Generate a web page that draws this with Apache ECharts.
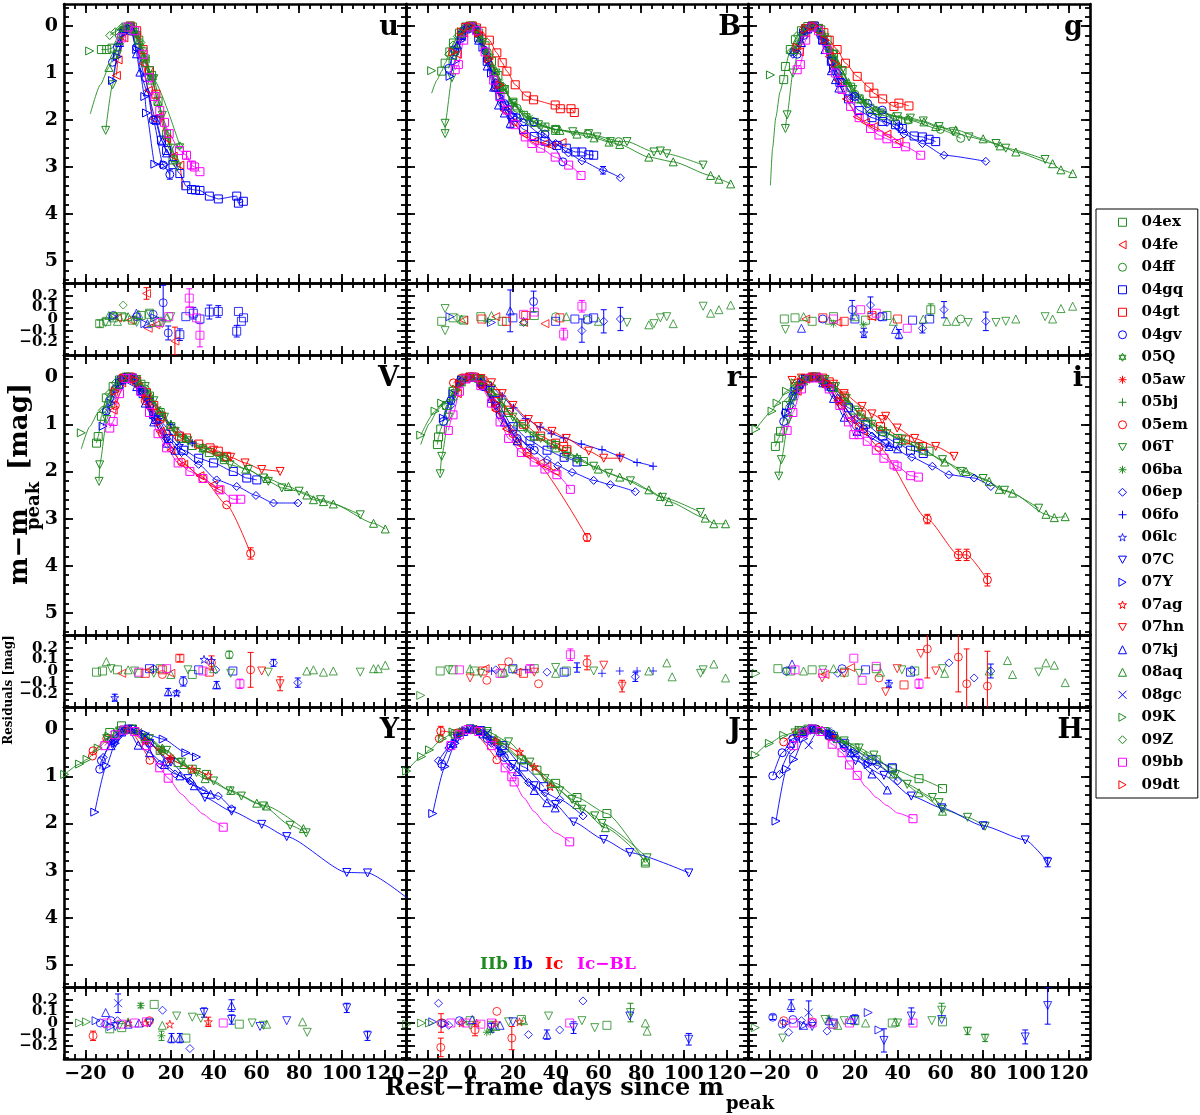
<!DOCTYPE html>
<html>
<head>
<meta charset="utf-8">
<script src="https://cdn.jsdelivr.net/npm/echarts@6/dist/echarts.min.js"></script>
<style>html,body{margin:0;background:#fff}#main{width:1200px;height:1115px}</style>
</head>
<body>
<div id="main"></div>
<script>
// supernovae: name, colour (by type), plot symbol
var snNames  = ['04ex','04fe','04ff','04gq','04gt','04gv','05Q','05aw','05bj','05em','06T','06ba','06ep','06fo','06lc','07C','07Y','07ag','07hn','07kj','08aq','08gc','09K','09Z','09bb','09dt'];
var snTypes  = ['IIb','Ic','IIb','Ib','Ic','Ib','IIb','Ic','IIb','Ic','IIb','IIb','Ib','Ib','Ib','Ib','Ib','Ic','Ic','Ib','IIb','Ib','IIb','IIb','Ic-BL','Ic'];
var snShapes = ['sq','triL','circ','sq','sq','circ','hex','ast','plus','circ','triD','ast','diam','plus','star','triD','triR','star','triD','triU','triU','cross','triR','diam','sq','triR'];
var typeNames  = ['IIb','Ib','Ic','Ic-BL'];
var typeColors = ['#1f8a1f','#0000ff','#ff0000','#ff00ff'];

var bands   = ['u','B','g','V','r','i','Y','J','H'];
var xTicks  = [-20, 0, 20, 40, 60, 80, 100, 120];
var magTicks = [0, 1, 2, 3, 4, 5];
var resTicks = [-0.2, -0.1, 0, 0.1, 0.2];

// light curves: [sn, days since peak, m - m_peak, (error)]
var mag_u = [
 ['09K',-18,0.53],
 ['04ex',-12.5,0.5],['04ex',-10,0.5],['04ex',-7.5,0.47],['04ex',-4,0.15],['04ex',-1,0.02],['04ex',2,0.02],['04ex',5,0.3],['04ex',8,0.7],['04ex',11,1.05],['04ex',14,1.6],['04ex',18,2.3],['04ex',21,2.85],
 ['06T',-10.5,2.22],['06T',-7.3,1.25],['06T',-5,0.6],['06T',-2,0.12],['06T',1,0],['06T',4,0.2],['06T',7,0.55],['06T',10,0.95],['06T',12,1.12],['06T',16,1.9],['06T',20,2.6],['06T',23,3.0],
 ['09Z',-8.6,0.2],['09Z',-6,0.12],['09Z',-3,0.03],['09Z',0,0],['09Z',3,0.08],['09Z',6,0.35],
 ['08aq',-9,0.88],['08aq',-6.5,0.6],['08aq',-4,0.3],['08aq',-1,0.03],['08aq',2,0.05],['08aq',5,0.3],['08aq',8,0.78],['08aq',11,1.15],['08aq',14,1.6],['08aq',18,2.3],['08aq',22,2.8],
 ['05Q',-2,0.05],['05Q',3,0.15],['05Q',8,0.7],['05Q',11.4,1.1],['05Q',24.2,2.55],
 ['06ba',-3,0.08],['06ba',2,0.05],['06ba',6,0.45],['06ba',10,1.0],
 ['04gv',-7.3,0.77],['04gv',-5,0.45],['04gv',-2,0.1],['04gv',1,0.02],['04gv',4,0.45],['04gv',8,1.1],['04gv',11.7,2.0],['04gv',16.4,2.96],['04gv',19.5,3.16,0.1],
 ['07Y',-7.3,1.16],['07Y',-5,0.65],['07Y',-2,0.15],['07Y',1,0.05],['07Y',4,0.5],['07Y',7.8,1.5],['07Y',8.6,1.85],['07Y',12.5,2.94],['07Y',17,2.95],
 ['07kj',-4,0.35],['07kj',-1,0.05],['07kj',2,0.1],['07kj',3.9,0.59],['07kj',5.5,0.98],['07kj',9,1.4],['07kj',13,2.0],['07kj',16,2.45],['07kj',18,2.7],
 ['04gq',13,2.0],['04gq',15.6,2.43],['04gq',18,2.65],['04gq',21,2.95],['04gq',24.2,3.14],['04gq',27,3.4],['04gq',29.7,3.48],['04gq',31.5,3.49],['04gq',33.6,3.5],['04gq',38,3.62],['04gq',42.2,3.68],['04gq',50.8,3.62],['04gq',51.6,3.77],['04gq',53.9,3.73],
 ['04fe',-5.5,1.05],['04fe',-4.7,0.72],['04fe',-2,0.25],['04fe',1,0.02],['04fe',4,0.2],['04fe',7,0.8],['04fe',9.4,1.37],['04fe',11.7,1.97],['04fe',14.8,1.92],['04fe',18,2.4],['04fe',21.1,2.77],['04fe',24.2,2.96],
 ['04gt',1,0.0],['04gt',4,0.1],['04gt',7,0.5],['04gt',10,0.95],['04gt',13,1.45],
 ['09bb',-3,0.25],['09bb',0,0.02],['09bb',3,0.1],['09bb',7,0.6],['09bb',10,1.1],['09bb',12.5,1.5],['09bb',14.8,1.8],['09bb',17,2.05],['09bb',19.2,2.29],['09bb',24,2.65],['09bb',27.3,2.75,0.08],['09bb',29.7,2.96,0.08],['09bb',31,3.0],['09bb',33.6,3.1]
];
var mag_B = [
 ['09K',-18,0.95],
 ['04ex',-13.3,0.96],['04ex',-11.7,0.79],['04ex',-9.5,0.55],['04ex',-7.8,0.36],['04ex',-5,0.15],['04ex',-2,0.02],['04ex',1,0],['04ex',4,0.15],['04ex',7,0.42],['04ex',10,0.75],['04ex',13,1.05],['04ex',16,1.35],['04ex',20,1.62],['04ex',25,1.9],['04ex',30,2.05],['04ex',35,2.15],['04ex',40,2.22],
 ['06T',-11.7,2.29],['06T',-11.7,2.07],['06T',-8.5,1.1],['06T',-6,0.55],['06T',-3,0.12],['06T',0,0],['06T',3,0.08],['06T',6,0.35],['06T',9,0.68],['06T',12,1.0],['06T',16,1.35],['06T',20,1.65],['06T',26,1.95],['06T',32,2.1],['06T',40,2.2],['06T',48,2.25],['06T',55.5,2.29],['06T',59.4,2.36],['06T',65.6,2.46],['06T',73.4,2.46],['06T',86,2.68],['06T',89,2.66],['06T',92,2.72],['06T',109,2.96],
 ['08aq',-8,0.62],['08aq',-4,0.15],['08aq',-1,0.01],['08aq',2,0.03],['08aq',5,0.25],['08aq',8,0.55],['08aq',12,0.95],['08aq',16,1.35],['08aq',21,1.7],['08aq',28,2.0],['08aq',35,2.15],['08aq',42,2.22],['08aq',50,2.3],['08aq',58,2.38],['08aq',65,2.47],['08aq',70,2.52],['08aq',83.6,2.79],['08aq',95,2.89],['08aq',112.5,3.18],['08aq',116.4,3.26],['08aq',121.9,3.36],
 ['09Z',-10,0.6],['09Z',-8,0.4],['09Z',-6,0.22],['09Z',-3,0.05],['09Z',0,0],['09Z',4,0.2],['09Z',8,0.6],['09Z',12,1.0],
 ['04ff',2,0.05],['04ff',8,0.55],['04ff',15,1.3],['04ff',22,1.75],['04ff',30,2.05],['04ff',40,2.2],['04ff',55,2.3],['04ff',69.5,2.46],
 ['05bj',-4,0.1],['05bj',0,0],['05bj',5,0.3],['05bj',10,0.85],['05bj',15,1.35],
 ['06ba',-2,0.05],['06ba',3,0.1],['06ba',8,0.6],['06ba',14,1.2],['06ba',20,1.65],['06ba',28,1.95],
 ['04gt',-2,0.03],['04gt',1,0.0],['04gt',3,0.04],['04gt',5.5,0.11],['04gt',9,0.3],['04gt',12.5,0.57],['04gt',15,0.78],['04gt',17.2,0.96],['04gt',21.1,1.25],['04gt',26.3,1.49],['04gt',29.7,1.57],['04gt',39.8,1.68],['04gt',42.2,1.76],['04gt',47.2,1.76],['04gt',48.75,1.84],
 ['04gq',-4,0.2],['04gq',0,0.01],['04gq',4,0.25],['04gq',8,0.75],['04gq',12,1.3],['04gq',16,1.7],['04gq',20,1.95],['04gq',25,2.2],['04gq',30,2.35],['04gq',35,2.45],['04gq',40.6,2.54],['04gq',45,2.6],['04gq',49.2,2.68],['04gq',52.3,2.68],['04gq',55.5,2.74],['04gq',57.8,2.75],
 ['04gv',-10,0.9],['04gv',-7,0.55],['04gv',-4,0.2],['04gv',-1,0.02],['04gv',3,0.1],['04gv',8,0.7],['04gv',12,1.25],['04gv',16,1.65],['04gv',22,1.95],['04gv',29.7,2.04],['04gv',35,2.3],['04gv',43.4,2.89],
 ['06ep',-8,0.5],['06ep',-3,0.08],['06ep',2,0.02],['06ep',7,0.55],['06ep',12,1.2],['06ep',18,1.75],['06ep',25,2.05],['06ep',33,2.3],['06ep',40,2.5],['06ep',46,2.7],['06ep',52.3,2.87],['06ep',62.2,3.07,0.08],['06ep',70.3,3.23],
 ['07Y',-9.4,1.07],['07Y',-7,0.75],['07Y',-4,0.3],['07Y',-1,0.05],['07Y',2,0.05],['07Y',6,0.45],['07Y',10,1.0],['07Y',14,1.5],['07Y',20,1.9],
 ['07kj',-6,0.4],['07kj',-2,0.06],['07kj',1,0.01],['07kj',4,0.3],['07kj',8,0.85],['07kj',11,1.3],['07kj',13.3,1.68],['07kj',16,1.85],['07kj',18.75,2.07,0.1],
 ['09bb',-7,0.93],['09bb',-5.5,0.82],['09bb',-3,0.3],['09bb',0,0.02],['09bb',3,0.1],['09bb',7,0.55],['09bb',11,1.15],['09bb',14,1.5],['09bb',17.2,1.79],['09bb',21,2.1],['09bb',25.8,2.36],['09bb',28.9,2.5],['09bb',33,2.6],['09bb',39.8,2.79],['09bb',46.1,2.96],['09bb',51.9,3.18],
 ['04fe',-6,0.6],['04fe',-3,0.15],['04fe',0,0],['04fe',4,0.2],['04fe',8,0.75],['04fe',12,1.35],['04fe',16,1.8],['04fe',20,2.05],['04fe',25,2.3],['04fe',30,2.45],['04fe',35,2.5],['04fe',38,2.55],['04fe',43,2.48],
 ['09dt',-8,0.55],['09dt',-4,0.12],['09dt',0,0],['09dt',4,0.15],['09dt',9,0.7],['09dt',14,1.25]
];
var mag_g = [
 ['09K',-19.5,1.04],
 ['04ex',-13.3,1.14],['04ex',-12.5,0.86],['04ex',-10.2,0.5],['04ex',-7.8,0.29],['04ex',-5,0.1],['04ex',-2,0.01],['04ex',1,0],['04ex',4,0.08],['04ex',7,0.3],['04ex',10,0.6],['04ex',14,0.95],['04ex',18,1.3],['04ex',22,1.55],['04ex',27,1.75],['04ex',33,1.9],['04ex',40,2.0],
 ['06T',-12.5,2.18],['06T',-11.7,1.89],['06T',-9,1.0],['06T',-6,0.4],['06T',-3,0.08],['06T',0,0],['06T',3,0.05],['06T',6,0.25],['06T',10,0.6],['06T',14,0.95],['06T',19,1.35],['06T',25,1.65],['06T',32,1.85],['06T',40,1.93],['06T',46,1.96],['06T',52,2.02],['06T',59.4,2.14],['06T',66,2.25],['06T',73.4,2.36],['06T',86,2.5],['06T',90.6,2.6],['06T',109,2.84],
 ['08aq',-8,0.5],['08aq',-4,0.12],['08aq',0,0],['08aq',4,0.1],['08aq',8,0.45],['08aq',12,0.8],['08aq',17,1.2],['08aq',23,1.55],['08aq',30,1.8],['08aq',38,1.92],['08aq',45,1.98],['08aq',52.3,2.04],['08aq',57.8,2.14],['08aq',67.2,2.21],['08aq',80,2.4],['08aq',88,2.55],['08aq',95.3,2.68],['08aq',112.5,2.93],['08aq',116.4,3.06],['08aq',121.9,3.14],
 ['09Z',-10,0.55],['09Z',-7,0.2],['09Z',-4,0.05],['09Z',0,0],['09Z',4,0.12],['09Z',8,0.5],
 ['04ff',3,0.05],['04ff',10,0.6],['04ff',20,1.45],['04ff',30,1.8],['04ff',45,2.0],['04ff',60,2.2],['04ff',69.5,2.39],
 ['05bj',-3,0.05],['05bj',1,0],['05bj',6,0.3],['05bj',11,0.85],['05bj',16,1.25],
 ['06ba',0,0.0],['06ba',5,0.2],['06ba',10,0.7],['06ba',16,1.2],['06ba',24,1.6],
 ['04gt',-3,0.05],['04gt',0,0],['04gt',3,0.05],['04gt',5.5,0.14],['04gt',8,0.3],['04gt',11.7,0.5],['04gt',15.6,0.79],['04gt',21.1,1.07],['04gt',26.6,1.3],['04gt',28.9,1.43],['04gt',33,1.55],['04gt',38.3,1.71],['04gt',40.6,1.64],['04gt',45.3,1.7],
 ['04gq',-3,0.06],['04gq',1,0.0],['04gq',5,0.3],['04gq',9,0.75],['04gq',13,1.2],['04gq',17,1.55],['04gq',22,1.8],['04gq',28,1.95],['04gq',33,2.03],['04gq',39,2.1],['04gq',42.2,2.18],['04gq',47.7,2.34],['04gq',51.6,2.36],['04gq',54.7,2.41],['04gq',57.8,2.46],
 ['04gv',-7,0.6],['04gv',-4,0.2],['04gv',0,0],['04gv',4,0.2],['04gv',9,0.75],['04gv',14,1.2],['04gv',20,1.5],['04gv',26,1.65],['04gv',32.8,1.79],['04gv',40.6,2.14],
 ['06ep',-9,0.6],['06ep',-4,0.1],['06ep',1,0],['06ep',6,0.35],['06ep',12,1.0],['06ep',19,1.5],['06ep',27,1.85],['06ep',35,2.05],['06ep',43,2.3],['06ep',51.6,2.5],['06ep',61.7,2.75],['06ep',81.25,2.88],
 ['07kj',-5,0.35],['07kj',-2,0.06],['07kj',2,0.02],['07kj',6,0.5],['07kj',9,0.95],['07kj',10.9,1.14],['07kj',12.5,1.32],
 ['07Y',-8,0.55],['07Y',-4,0.15],['07Y',0,0],['07Y',5,0.3],['07Y',10,0.9],
 ['09bb',-7,0.93],['09bb',-5.5,0.82],['09bb',-3,0.3],['09bb',0,0.02],['09bb',3,0.1],['09bb',7,0.5],['09bb',11,1.0],['09bb',14,1.35],['09bb',18,1.71],['09bb',22,1.95],['09bb',27.3,2.18],['09bb',31.25,2.32],['09bb',35,2.4],['09bb',39.4,2.5],['09bb',43.75,2.57],['09bb',50.8,2.75],
 ['04fe',-6,0.55],['04fe',-3,0.15],['04fe',0,0],['04fe',4,0.2],['04fe',8,0.65],['04fe',12,1.15],['04fe',16,1.55],['04fe',21.1,1.93],['04fe',25,2.05],['04fe',28.9,2.14],['04fe',35,2.3],['04fe',40.6,2.46],
 ['09dt',-7,0.45],['09dt',-3,0.07],['09dt',1,0],['09dt',6,0.3],['09dt',11,0.8]
];
var mag_V = [
 ['09K',-21.9,1.18],
 ['04ex',-14.8,1.4],['04ex',-14,1.26],['04ex',-12.5,0.83],['04ex',-10.2,0.44],['04ex',-7,0.2],['04ex',-4,0.06],['04ex',-1,0],['04ex',2,0.02],['04ex',6,0.15],['04ex',10,0.4],['04ex',15,0.75],['04ex',20,1.05],['04ex',25,1.3],['04ex',30,1.45],['04ex',38,1.6],['04ex',45,1.75],
 ['06T',-13.6,2.21],['06T',-13.3,1.86],['06T',-10,0.9],['06T',-7,0.35],['06T',-4,0.1],['06T',0,0],['06T',4,0.05],['06T',8,0.2],['06T',12,0.5],['06T',17,0.85],['06T',22,1.15],['06T',28,1.35],['06T',35,1.55],['06T',42,1.68],['06T',47.7,1.86],['06T',56.25,1.96],['06T',63.3,2.14],['06T',65.6,2.21],['06T',71.9,2.35],['06T',80,2.42],['06T',90,2.6],['06T',108.6,2.92],
 ['08aq',-9,0.55],['08aq',-5,0.15],['08aq',0,0],['08aq',5,0.08],['08aq',10,0.35],['08aq',15,0.7],['08aq',20,1.0],['08aq',27,1.3],['08aq',35,1.5],['08aq',45,1.7],['08aq',55,1.95],['08aq',65,2.15],['08aq',75,2.32],['08aq',83.6,2.5],['08aq',86.7,2.6],['08aq',91.4,2.64],['08aq',96,2.69],['08aq',114.8,3.1],['08aq',120.3,3.22],
 ['09Z',-12,0.7],['09Z',-9,0.35],['09Z',-6,0.12],['09Z',-3,0.03],['09Z',0,0],['09Z',4,0.06],['09Z',8,0.3],
 ['04ff',2,0.0],['04ff',8,0.25],['04ff',15,0.8],['04ff',25,1.3],['04ff',35,1.5],['04ff',45,1.7],
 ['04gt',-2,0.02],['04gt',1,0],['04gt',4,0.08],['04gt',8.6,0.33],['04gt',12,0.6],['04gt',15.6,0.83],['04gt',21.1,1.15],['04gt',24,1.25],['04gt',27.3,1.29],['04gt',33,1.42],['04gt',38.3,1.5],['04gt',42.2,1.57],['04gt',46.1,1.68],
 ['07hn',40,1.55],['07hn',48,1.7],['07hn',54.7,1.82],['07hn',62.5,1.96],['07hn',71.1,2.0],
 ['05em',-6,0.6],['05em',0,0],['05em',8,0.5],['05em',16,1.2],['05em',25,1.8],['05em',35,2.15],['05em',46.1,2.71],['05em',57.3,3.74,0.12],
 ['06ep',-8,0.45],['06ep',-3,0.06],['06ep',1,0],['06ep',6,0.3],['06ep',12,0.85],['06ep',18,1.3],['06ep',25,1.6],['06ep',33,1.85],['06ep',41.4,2.18],['06ep',50.8,2.32],['06ep',59.8,2.51],['06ep',68,2.67],['06ep',79.4,2.67],
 ['04gq',-3,0.06],['04gq',2,0.02],['04gq',7,0.35],['04gq',13,0.9],['04gq',19,1.3],['04gq',26,1.55],['04gq',33,1.72],['04gq',40,1.82],['04gq',49.2,2.0],['04gq',55.5,2.14],['04gq',60.2,2.18],
 ['09bb',-8.6,1.08],['09bb',-7,0.94],['09bb',-4,0.35],['09bb',-1,0.03],['09bb',2,0.02],['09bb',6,0.3],['09bb',10,0.75],['09bb',14,1.2],['09bb',18,1.5],['09bb',23.4,1.82],['09bb',28.9,2.0],['09bb',35,2.15],['09bb',43,2.39],['09bb',49.2,2.59],['09bb',52.7,2.59],
 ['04fe',-7,0.7],['04fe',-3,0.12],['04fe',0,0],['04fe',5,0.2],['04fe',10,0.65],['04fe',15,1.15],['04fe',20,1.55],['04fe',26,1.85],['04fe',33.6,2.09],['04fe',39.8,2.28],['04fe',42.2,2.39],
 ['07Y',-11.7,1.04],['07Y',-8,0.55],['07Y',-4,0.12],['07Y',0,0],['07Y',6,0.3],['07Y',12,0.8],
 ['04gv',-10.2,0.72],['04gv',-6,0.25],['04gv',-2,0.02],['04gv',3,0.05],['04gv',10,0.6],['04gv',18,1.2],
 ['07kj',-4,0.15],['07kj',0,0],['07kj',4,0.2],['07kj',8,0.55],['07kj',12,0.95],['07kj',18,1.4],['07kj',22,1.55],
 ['06fo',3,0.05],['06fo',10,0.45],['06fo',20,1.0],['06fo',30,1.4],
 ['06lc',-3,0.05],['06lc',6,0.25],['06lc',14,0.9],['06lc',24,1.45],
 ['09dt',-6,0.3],['09dt',-2,0.02],['09dt',3,0.05],['09dt',9,0.45],['09dt',15,0.95]
];
var mag_r = [
 ['09K',-23.1,1.23],['09K',-16.4,0.72],['09K',-13.3,0.55],
 ['04ex',-15.3,1.43],['04ex',-14.8,1.27],['04ex',-13.75,1.1],['04ex',-11,0.6],['04ex',-8,0.3],['04ex',-4,0.06],['04ex',0,0],['04ex',4,0.03],['04ex',8,0.18],['04ex',13,0.45],['04ex',18,0.75],['04ex',24,1.05],['04ex',30,1.25],['04ex',38,1.42],['04ex',45,1.58],['04ex',53,1.79],
 ['06T',-14,2.05],['06T',-13.3,1.68],['06T',-10,0.85],['06T',-7,0.35],['06T',-3,0.06],['06T',1,0],['06T',5,0.05],['06T',10,0.25],['06T',15,0.55],['06T',20,0.85],['06T',26,1.1],['06T',33,1.3],['06T',40,1.45],['06T',45.3,1.68],['06T',50,1.75],['06T',57.8,1.89],['06T',64.8,2.04],['06T',75,2.2],['06T',90,2.55],['06T',107.8,2.87],
 ['08aq',-8,0.4],['08aq',-4,0.1],['08aq',0,0],['08aq',5,0.05],['08aq',10,0.3],['08aq',16,0.65],['08aq',22,0.95],['08aq',30,1.25],['08aq',40,1.5],['08aq',50,1.7],['08aq',60,1.95],['08aq',70,2.12],['08aq',83.6,2.39],['08aq',89,2.53],['08aq',93,2.64],['08aq',110,2.99],['08aq',114,3.11],['08aq',119.5,3.11],
 ['09Z',-12,0.6],['09Z',-8,0.25],['09Z',-4,0.05],['09Z',0,0],['09Z',5,0.08],
 ['06fo',0,0.02],['06fo',4.7,0.05],['06fo',10,0.2],['06fo',15,0.4],['06fo',20.3,0.65],['06fo',26,0.88],['06fo',32.8,1.06],['06fo',38,1.2],['06fo',43.75,1.29],['06fo',52,1.42],['06fo',61.7,1.54],['06fo',70,1.67],['06fo',78.1,1.81],['06fo',85.6,1.89],
 ['07hn',-5,0.15],['07hn',0,0],['07hn',5,0.03],['07hn',10,0.12],['07hn',15,0.35],['07hn',20,0.6],['07hn',27.3,0.9],['07hn',32,1.05],['07hn',38.3,1.15],['07hn',45,1.3],['07hn',55.5,1.57],['07hn',62.5,1.72],['07hn',70.3,1.72],
 ['05em',-7.8,0.12],['05em',-4,0.02],['05em',0,0],['05em',5,0.15],['05em',12,0.65],['05em',20,1.2],['05em',26.6,1.6],['05em',54.7,3.4,0.08],
 ['06ep',-9,0.6],['06ep',-4,0.1],['06ep',0,0],['06ep',6,0.2],['06ep',12,0.6],['06ep',20,1.15],['06ep',28,1.5],['06ep',36,1.75],['06ep',41,1.88],['06ep',47.7,2.02],['06ep',57.8,2.19],['06ep',65.6,2.28],['06ep',77.3,2.43],
 ['09bb',-10.2,1.13],['09bb',-8,0.8],['09bb',-5,0.3],['09bb',-2,0.04],['09bb',1,0],['09bb',5,0.18],['09bb',10,0.55],['09bb',14,0.95],['09bb',18,1.3],['09bb',24,1.6],['09bb',30,1.8],['09bb',35,1.95],['09bb',40.6,2.07],['09bb',46.9,2.38],
 ['04fe',-6,0.35],['04fe',-2,0.03],['04fe',2,0.01],['04fe',7,0.25],['04fe',12,0.7],['04fe',17,1.1],['04fe',22,1.4],['04fe',26.6,1.65],['04fe',32.8,1.82],['04fe',35.9,1.89],['04fe',39.8,2.0],
 ['04gt',-2,0.02],['04gt',2,0],['04gt',6,0.08],['04gt',12,0.35],['04gt',18,0.7],['04gt',25,1.0],['04gt',33,1.25],['04gt',40,1.4],['04gt',43.75,1.47],['04gt',45.3,1.54],
 ['07Y',-12.5,0.87],['07Y',-8,0.35],['07Y',-4,0.06],['07Y',0,0],['07Y',6,0.15],['07Y',12,0.55],
 ['04gv',-12.5,0.94],['04gv',-9,0.5],['04gv',-5,0.1],['04gv',0,0],['04gv',6,0.2],['04gv',14,0.8],['04gv',22,1.3],['04gv',30,1.55],
 ['07kj',-5,0.1],['07kj',0,0],['07kj',5,0.1],['07kj',10,0.45],['07kj',16,0.95],['07kj',22,1.35],
 ['04gq',5,0.1],['04gq',12,0.5],['04gq',20,1.05],['04gq',28,1.35],['04gq',36,1.55],['04gq',44,1.7],['04gq',50,1.8],
 ['09dt',-5,0.15],['09dt',0,0],['09dt',6,0.15],['09dt',12,0.55]
];
var mag_i = [
 ['09K',-26.25,1.1],['09K',-18.75,0.72],['09K',-16.4,0.55],['09K',-12,0.3],['09K',-8,0.12],
 ['04ex',-17.2,1.47],['04ex',-15.6,1.29],['04ex',-14.8,1.15],['04ex',-12,0.6],['04ex',-8,0.2],['04ex',-4,0.04],['04ex',0,0],['04ex',5,0.05],['04ex',10,0.2],['04ex',15,0.45],['04ex',20,0.7],['04ex',26,0.95],['04ex',33,1.15],['04ex',40,1.3],['04ex',48.4,1.47],['04ex',54.7,1.57],
 ['06T',-15.6,2.1],['06T',-14.4,1.75],['06T',-11,0.9],['06T',-7,0.3],['06T',-3,0.05],['06T',1,0],['06T',6,0.05],['06T',11,0.2],['06T',16,0.45],['06T',22,0.75],['06T',28,1.0],['06T',35,1.2],['06T',42.2,1.31],['06T',50,1.5],['06T',61,1.75],['06T',69.5,2.0],['06T',80,2.15],['06T',90,2.4],['06T',106,2.78],
 ['08aq',-9,0.4],['08aq',-4,0.08],['08aq',0,0],['08aq',5,0.04],['08aq',10,0.22],['08aq',16,0.5],['08aq',24,0.85],['08aq',32,1.1],['08aq',42,1.35],['08aq',52,1.55],['08aq',62,1.8],['08aq',72,2.0],['08aq',82.8,2.21],['08aq',87.5,2.38],['08aq',93.75,2.46],['08aq',109.4,2.91],['08aq',113.3,2.98],['08aq',118.4,2.96],
 ['09Z',-11,0.5],['09Z',-7,0.18],['09Z',-3,0.03],['09Z',1,0],['09Z',6,0.05],
 ['07hn',-9.4,0.07],['07hn',-5,0.02],['07hn',0,0],['07hn',5,0.02],['07hn',10,0.15],['07hn',15,0.35],['07hn',23.4,0.62],['07hn',28,0.78],['07hn',32.8,0.9],['07hn',34.4,0.83],['07hn',39.8,1.08],['07hn',48,1.3],['07hn',57.8,1.47],['07hn',66.4,1.68],
 ['05em',-6,0.2],['05em',0,0],['05em',6,0.15],['05em',14,0.6],['05em',22,1.05],['05em',31.25,1.49],['05em',53.9,3.01,0.1],['05em',68.4,3.77,0.12],['05em',72.3,3.77,0.12],['05em',82,4.3,0.13],
 ['09bb',-11.7,1.13],['09bb',-9,0.75],['09bb',-5,0.25],['09bb',-1,0.02],['09bb',3,0.02],['09bb',8,0.25],['09bb',13,0.6],['09bb',17,0.95],['09bb',19.5,1.22],['09bb',22,1.22],['09bb',25.8,1.36],['09bb',30,1.55],['09bb',33.6,1.72],['09bb',38.3,1.86],['09bb',39.8,1.89],['09bb',46.1,2.09],['09bb',49.7,2.12],
 ['06ep',-10,0.6],['06ep',-5,0.15],['06ep',0,0],['06ep',5,0.08],['06ep',12,0.45],['06ep',20,0.9],['06ep',28,1.25],['06ep',36,1.45],['06ep',46.6,1.7],['06ep',56.25,1.89],['06ep',64,2.07],['06ep',75.8,2.14],['06ep',83.6,2.32],
 ['04gv',-13.3,0.94],['04gv',-12.5,0.76],['04gv',-9,0.4],['04gv',-5,0.1],['04gv',0,0],['04gv',6,0.12],['04gv',14,0.6],['04gv',24,1.1],['04gv',34,1.4],
 ['04gt',-3,0.03],['04gt',2,0],['04gt',8,0.1],['04gt',15,0.4],['04gt',23,0.8],['04gt',32,1.05],['04gt',43.75,1.33],['04gt',51.6,1.47],
 ['04fe',-7,0.3],['04fe',-3,0.04],['04fe',1,0],['04fe',6,0.15],['04fe',12,0.5],['04fe',18,0.9],['04fe',24,1.15],
 ['07kj',-6,0.15],['07kj',0,0],['07kj',5,0.12],['07kj',10,0.45],['07kj',15,0.85],['07kj',21,1.15],['07kj',36,1.47],['07kj',40,1.52],
 ['07Y',-12,0.75],['07Y',-8,0.3],['07Y',-3,0.03],['07Y',2,0],['07Y',8,0.2],
 ['04gq',2,0.0],['04gq',9,0.2],['04gq',17,0.65],['04gq',25,1.0],['04gq',33,1.25],['04gq',40,1.4],['04gq',46,1.55],['04gq',52,1.62],
 ['09dt',-5,0.1],['09dt',1,0],['09dt',7,0.12],['09dt',13,0.5]
];
var mag_Y = [
 ['09K',-29.7,0.96],['09K',-22.7,0.74],['09K',-19.2,0.64],['09K',-14,0.4],['09K',-9,0.15],
 ['05em',-16.7,0.57],['05em',-16.4,0.46],['05em',-10,0.2],['05em',0,0],['05em',10.2,0.66],
 ['04ex',-8.6,0.07],['04ex',-3.1,-0.07],['04ex',2,0.0],['04ex',8,0.2],['04ex',15,0.45],['04ex',23.4,0.71],['04ex',30,0.85],['04ex',36.7,0.96],
 ['07Y',-15.6,1.76],['07Y',-10.2,0.78],['07Y',-6,0.3],['07Y',0,0.03],['07Y',8,0.1],['07Y',16.4,0.21],['07Y',27,0.5],['07Y',32,0.59],
 ['04gv',-13.3,0.85],['04gv',-12.5,0.67],['04gv',-8,0.25],['04gv',-3,0.05],['04gv',2,0.0],['04gv',10,0.3],['04gv',18,0.7],
 ['06ep',-11.7,0.6],['06ep',-7,0.25],['06ep',-2,0.03],['06ep',4,0.05],['06ep',14.8,0.74],['06ep',22,0.95],['06ep',28.9,1.1],['06ep',35,1.3],['06ep',42.2,1.42],['06ep',48.4,1.69],
 ['07C',-6,0.3],['07C',0,0],['07C',10,0.3],['07C',20,0.7],['07C',28,1.05],['07C',35.9,1.45],['07C',48.4,1.74],['07C',62.5,2.02],['07C',74.2,2.28],['07C',102.3,3.04],['07C',112,3.05],
 ['07kj',-8,0.35],['07kj',-3,0.06],['07kj',0,0],['07kj',4.7,0.34],['07kj',10,0.5],['07kj',17,0.75],['07kj',24.2,0.99],['07kj',31,1.2],['07kj',38.6,1.38],
 ['09bb',-10.9,0.35],['09bb',-6,0.12],['09bb',-2,0.02],['09bb',3,0.05],['09bb',8.6,0.35],['09bb',14.8,0.82],['09bb',18.75,1.04],['09bb',44.5,2.08],
 ['06T',-10,0.2],['06T',-4,0.04],['06T',2,0.0],['06T',10,0.2],['06T',18,0.45],['06T',25,0.7],['06T',32,0.92],['06T',40,1.1],['06T',47.7,1.31],['06T',53,1.42],['06T',63.3,1.63],['06T',75.8,2.04],['06T',83.3,2.2],
 ['08aq',-6,0.1],['08aq',0,0],['08aq',8,0.15],['08aq',16,0.4],['08aq',26,0.75],['08aq',36,1.05],['08aq',48,1.3],['08aq',60.2,1.57],['08aq',64.8,1.63],['08aq',82,2.11],
 ['07ag',0,0.0],['07ag',8,0.25],['07ag',19.5,0.64],['07ag',30,0.85],['07ag',37.5,0.98],
 ['08gc',-5,0.1],['08gc',2,0.0],['08gc',8,0.15],
 ['06ba',-4,0.05],['06ba',5,0.05],['06ba',15.6,0.45],
 ['05aw',5,0.05],['05aw',15,0.45],['05aw',20,0.6]
];
var mag_J = [
 ['09K',-29.7,0.89],['09K',-22.7,0.58],['09K',-19,0.44],['09K',-13,0.2],['09K',-8,0.06],
 ['05em',-14.4,0.2],['05em',-13.75,0.04,0.1],['05em',-6,0.08],['05em',0,0],['05em',12.5,0.65],
 ['07Y',-17.5,1.79],['07Y',-11.7,0.79],['07Y',-7,0.3],['07Y',-2,0.03],['07Y',5,0.05],['07Y',15,0.5],
 ['06ep',-14.8,0.67],['06ep',-10,0.4],['06ep',-4,0.08],['06ep',2,0.0],['06ep',10,0.3],['06ep',19,0.8],['06ep',27.3,1.13],['06ep',35,1.35],['06ep',41.9,1.49],['06ep',52.8,1.84],
 ['04gv',-13.3,0.74],['04gv',-9,0.35],['04gv',-4,0.06],['04gv',1,0],['04gv',8,0.2],['04gv',16,0.6],
 ['07C',-6,0.2],['07C',0,0],['07C',10,0.25],['07C',20,0.75],['07C',30,1.2],['07C',40,1.6],['07C',48.4,1.97],['07C',62.5,2.34],['07C',74.7,2.62],['07C',102.3,3.05],
 ['07kj',-8,0.3],['07kj',-3,0.05],['07kj',1,0],['07kj',6,0.1],['07kj',14,0.45],['07kj',22,0.9],['07kj',30,1.3],['07kj',35.9,1.56],['07kj',39.8,1.67],
 ['09bb',-9,0.35],['09bb',-5,0.12],['09bb',-1,0.01],['09bb',4,0.05],['09bb',10,0.35],['09bb',16.4,0.82],['09bb',19.5,1.01],['09bb',20.6,1.12],['09bb',46.6,2.39],
 ['04ex',-7,0.1],['04ex',0,0],['04ex',8,0.1],['04ex',16,0.4],['04ex',24,0.65],['04ex',31.25,0.87],['04ex',40,1.15],['04ex',50,1.45],['04ex',64,1.79],['04ex',82,2.84],
 ['06T',-8,0.15],['06T',0,0],['06T',8,0.05],['06T',18,0.27],['06T',28,0.7],['06T',35,1.05],['06T',41.9,1.31],['06T',47.7,1.49],['06T',52.3,1.7],['06T',58.3,1.84],['06T',61.7,2.0],['06T',82.8,2.73],
 ['08aq',-5,0.05],['08aq',2,0.0],['08aq',12,0.2],['08aq',25,0.65],['08aq',38,1.15],['08aq',50,1.6],['08aq',63.3,2.09],['08aq',82,2.8],
 ['07ag',-4,0.05],['07ag',3,0.0],['07ag',12,0.25],['07ag',23.1,0.48],['07ag',30,0.8],['07ag',37.5,1.22],
 ['04gq',5,0.03],['04gq',15,0.35],['04gq',25,0.8],['04gq',34.4,1.22],
 ['08gc',-6,0.15],['08gc',1,0],['08gc',8,0.08],
 ['06ba',-3,0.04],['06ba',6,0.05],['06ba',14,0.3]
];
var mag_H = [
 ['09K',-26.6,0.55],['09K',-20,0.3],['09K',-13.3,0.13],['09K',-6,0.02],
 ['04gv',-18.4,0.99],['04gv',-14,0.5],['04gv',-9,0.2],['04gv',-3,0.03],['04gv',2,0],['04gv',9,0.1],
 ['07Y',-16.9,1.95],['07Y',-12,0.85],['07Y',-8.6,0.64],['07Y',-4,0.2],['07Y',1,0.02],['07Y',8,0.1],['07Y',20,0.5],['07Y',26.25,0.75],
 ['06ep',-15.3,0.96],['06ep',-10,0.45],['06ep',-5,0.1],['06ep',0,0],['06ep',8,0.1],['06ep',15,0.4],['06ep',25.8,0.71],['06ep',30.5,0.77],['06ep',40,1.1],
 ['05em',-13.3,0.27],['05em',-7,0.08],['05em',0,0],['05em',8,0.15],
 ['08gc',-1.6,0.34],['08gc',3,0.02],['08gc',7,0.05],
 ['09bb',-8.6,0.35],['09bb',-4,0.08],['09bb',0,0],['09bb',4,0.05],['09bb',9.4,0.32],['09bb',14,0.5],['09bb',17.5,0.76],['09bb',21.1,0.98],['09bb',47.2,1.9],
 ['07kj',-10,0.3],['07kj',-4,0.05],['07kj',1,0],['07kj',8,0.12],['07kj',18,0.5],['07kj',28,0.95],['07kj',35.2,1.29],
 ['07C',-7,0.2],['07C',0,0],['07C',10,0.2],['07C',20.3,0.67],['07C',33.6,0.98],['07C',46.4,1.42],['07C',60.6,1.67],['07C',80,2.05],['07C',99.7,2.35],['07C',110.2,2.82,0.1],
 ['04ex',-6,0.03],['04ex',0,0],['04ex',10,0.15],['04ex',20,0.4],['04ex',30,0.65],['04ex',37.5,0.84],['04ex',50,1.05],['04ex',61,1.26],
 ['06T',-8,0.08],['06T',-2,0.0],['06T',6,0.05],['06T',15,0.25],['06T',22,0.4],['06T',28.9,0.55],['06T',39,0.96],['06T',44.5,1.17],['06T',56.25,1.45],['06T',59.4,1.56],['06T',61,1.7],['06T',72.7,1.87],['06T',80.9,2.06],
 ['08aq',-5,0.03],['08aq',2,0],['08aq',12,0.2],['08aq',25,0.55],['08aq',38,0.95],['08aq',50,1.35],['08aq',61,1.74],
 ['04gq',5,0.05],['04gq',15,0.3],['04gq',28,0.65],['04gq',37.5,0.82],
 ['05aw',-3,0.03],['05aw',3,0.0],['05aw',10,0.15],
 ['06ba',0,0.0],['06ba',8,0.05],['06ba',16,0.3]
];

// fit residuals: [sn, days since peak, residual, (error)]
var res_u = [
 ['04ex',-13.3,-0.04,0.03],['04ex',-10,-0.02],['04ex',-7,0.01],['04ex',-3,0.02],['04ex',2,-0.01],['04ex',6,0.03],['04ex',10,0.04],['04ex',14,-0.02],
 ['06T',-10.5,-0.03],['06T',-7,0.02],['06T',-2,0.01],['06T',4,-0.03],['06T',10,0.05],['06T',16,-0.04],['06T',20,0.02],
 ['09Z',-2.3,0.12],['09Z',-6,0.03],['09Z',3,-0.01],
 ['08aq',-9,0.03],['08aq',-5,-0.02],['08aq',0,0.02],['08aq',5,0.04],['08aq',11,-0.03],['08aq',18,0.01],
 ['04fe',8.6,0.22,0.05],['04fe',9.4,-0.08],['04fe',21.9,-0.19,0.12],['04fe',-5,0.01],['04fe',1,-0.01],['04fe',13,-0.05],
 ['04gv',16.4,0.14,0.15],['04gv',18.75,-0.12,0.06],['04gv',-7,0.03],['04gv',4,0.02],['04gv',11.7,0.04],
 ['04gq',24.2,-0.135,0.05],['04gq',30.5,0.05,0.05],['04gq',38,0.06,0.06],['04gq',42.2,0.065,0.05],['04gq',51.6,0.065],['04gq',50.8,-0.105,0.05],['04gq',53,-0.02],['04gq',54,0.01],['04gq',27,0.02],['04gq',33.6,0.0],
 ['09bb',28.6,0.18,0.08],['09bb',28.9,0.07],['09bb',33.6,-0.14,0.1],['09bb',32,0.01],['09bb',14.8,-0.03],['09bb',19,0.02],
 ['07Y',-7,0.02],['07Y',7.8,-0.04],['07Y',12.5,0.01],
 ['07kj',3.9,0.05],['07kj',9,-0.04]
];
var res_B = [
 ['06T',-11.7,0.09],['06T',-11.7,-0.1],['04ex',-13.3,-0.02],['07kj',18.75,0.07,0.18],['04gv',29.7,0.15,0.09],['09bb',52.3,0.11,0.05],['09bb',43.75,-0.13,0.05],
 ['06ep',52.3,-0.1,0.1],['06ep',62.5,-0.02,0.1],['06ep',70.3,0,0.1],['06T',73.4,-0.03],['06T',86,-0.04],['06T',89,0.01],['06T',92,0.02],['08aq',83.6,-0.05],['08aq',95,-0.04],
 ['06T',109,0.11],['08aq',112.5,0.05],['08aq',116.4,0.08],['08aq',121.9,0.12],
 ['04ex',-8,0.01],['04ex',-3,-0.01],['04ex',5,0.02],['04ex',15,-0.02],['04ex',30,0.03],['08aq',-4,0.0],['08aq',10,0.03],['08aq',25,-0.02],['08aq',45,0.02],['08aq',60,-0.02],
 ['04gt',5.5,0.0],['04gt',17,-0.02],['04gt',26,0.03],['04gt',42,0.01],['04fe',-3,-0.01],['04fe',12,0.02],['04fe',25,-0.03],['04fe',35,-0.04],
 ['04gq',20,0.01],['04gq',40,-0.02],['04gq',49,0.0],['04gq',55,0.0],['04gq',57.8,0.01],['09bb',25,0.04],['09bb',30,0.06],['06ba',8,-0.02],
 ['07Y',-9.4,0.02],['07Y',10,-0.03],['04ff',40,0.02],['04ff',55,-0.01],['09Z',-6,0.01],['06ep',25,-0.03]
];
var res_g = [
 ['06T',-12.5,-0.09],['04ex',-13,0.0],['07kj',-5,-0.08],['04gv',18.75,0.08,0.08],['06ep',27.3,0.12,0.07],['06lc',24.2,-0.12,0.04],['07kj',39,-0.09],['07kj',40.6,-0.13,0.04],
 ['09bb',22.7,0.08],['09bb',44.5,-0.08],['04ex',55.5,0.08,0.05],['06ep',61.7,0.08,0.07],['06ep',81.25,-0.02,0.08],['06ep',51.6,-0.08,0.04],
 ['08aq',63,-0.02],['08aq',67.2,-0.02],['04ff',69.5,0.0],['06T',73,-0.03],['06T',86,-0.03],['06T',90.6,-0.02],['08aq',95.3,0.0],['06T',109,0.02],['08aq',112.5,0.0],['08aq',116.4,0.09],['08aq',121.9,0.11],
 ['04ex',-8,0.01],['04ex',0,-0.02],['04ex',10,0.02],['04ex',25,-0.01],['04ex',35,0.03],['08aq',-4,0.02],['08aq',8,-0.01],['08aq',20,0.02],['08aq',38,-0.02],['08aq',52,0.0],
 ['04gt',5,0.01],['04gt',15,-0.02],['04gt',28,0.03],['04gt',40,0.0],['04fe',-3,0.0],['04fe',12,-0.03],['04fe',28,0.02],
 ['04gq',20,0.0],['04gq',33,0.02],['04gq',47,-0.01],['04gq',55,0.0],['04gv',5,0.0],['04gv',32,0.02],['09bb',10,0.0],['09bb',30,0.05],['06ba',10,-0.04],['06ba',24,-0.05]
];
var res_V = [
 ['06lc',-6.25,-0.23,0.03],['07kj',18.75,-0.18,0.03],['06lc',22.7,-0.19,0.02],['07kj',41.4,-0.12,0.03],['04gt',24.2,0.11,0.03],['04ff',47.3,0.14,0.03],['06lc',35.5,0.1],['06lc',39,0.09],
 ['05em',39,0.07,0.06],['09bb',52.3,-0.11,0.04],['05em',57.3,0.01,0.15],['07hn',71.1,-0.11,0.06],['06ep',68,0.07,0.03],['06ep',79.4,-0.1,0.04],['04gv',25.8,-0.09,0.04],
 ['06T',65.6,-0.01],['07hn',62.5,0.0],['08aq',83.6,0.0],['08aq',86.7,0.01],['08aq',91.4,-0.01],['08aq',96,0.0],['06T',108.6,-0.01],['08aq',114.8,0.02],['08aq',117,0.02],['08aq',120.3,0.05],
 ['08aq',-10.2,0.08],['04ex',-14.8,-0.01],['04ex',-12,0.0],
 ['04ex',-5,0.01],['04ex',5,-0.02],['04ex',15,0.02],['04ex',30,-0.03],['06T',-8,0.02],['06T',3,0.0],['06T',12,-0.02],['06T',28,0.01],['06T',48,-0.02],
 ['08aq',0,0.01],['08aq',20,-0.03],['08aq',40,0.02],['04gt',8,-0.02],['04gt',16,0.01],['04gt',38,-0.01],['04fe',-3,-0.02],['04fe',10,0.01],['04fe',20,-0.02],
 ['04gq',10,0.02],['04gq',33,0.01],['04gq',49,0.0],['09bb',5,-0.01],['09bb',18,0.02],['09bb',35,0.0],['06ep',12,0.02],['06ep',41,0.01],['05em',16,-0.03]
];
var res_r = [
 ['09K',-23.1,-0.21],['05em',32,-0.11],['05em',18,0.08],['05em',7.8,-0.08],['09bb',46.9,0.14,0.05],['05em',54.7,0.07,0.06],['07hn',62.5,0.05],['07hn',71.1,-0.13,0.05],
 ['06ep',77.3,-0.05,0.04],['06fo',61.7,-0.02],['06fo',70,0.0],['06fo',78.1,0.0],['06fo',85.6,0.0],['08aq',92,0.07],['08aq',94.5,-0.05],['06T',107.8,-0.02],['06T',109,0.01],
 ['08aq',114,0.06],['08aq',119.5,-0.06],['07hn',0,-0.06],['09bb',28,0.02,0.03],['06fo',50,0.03,0.04],
 ['04ex',-14,0.0],['04ex',-8,0.01],['04ex',2,0.0],['04ex',15,-0.02],['04ex',30,0.02],['04ex',45,0.0],['06T',-10,0.01],['06T',5,-0.02],['06T',20,0.01],['06T',40,0.03],['06T',57.8,0.0],
 ['08aq',0,0.02],['08aq',16,-0.01],['08aq',40,-0.02],['08aq',83.6,0.0],['06fo',10,0.0],['06fo',26,0.01],['07hn',15,0.02],['07hn',30,-0.01],['04gt',6,0.0],['04gt',25,-0.02],
 ['04fe',7,0.02],['04fe',22,-0.01],['09bb',-5,0.01],['09bb',14,-0.02],['06ep',12,0.01],['06ep',36,-0.01],['04gq',20,0.02],['04gq',44,-0.01]
];
var res_i = [
 ['09K',-26.25,-0.02],['05em',53.9,0.19,0.25],['07hn',50.8,0.15],['05em',68.4,0.12,0.3],['05em',72.3,-0.11,0.3],['05em',82,-0.13,0.3],['07hn',34.4,-0.18],['06lc',35.9,-0.11,0.03],
 ['09bb',19.5,0.11],['09bb',50,-0.11,0.04],['09bb',23.4,-0.08],['04gt',43,-0.12],['05em',31.25,-0.06],['06ep',64,0.07],['06ep',75.8,-0.06],['06ep',83.6,0.0,0.06],
 ['08aq',91.4,0.09],['08aq',93.75,-0.03],['06T',106,-0.01],['08aq',109.4,0.07],['08aq',113.3,0.05],['08aq',118.4,-0.1],['07hn',4.7,-0.06],['07kj',-9.4,0.06],
 ['04ex',-16,0.02],['04ex',-10,0.0],['04ex',0,0.01],['04ex',15,-0.01],['04ex',30,0.02],['04ex',48,0.0],['06T',-12,-0.01],['06T',5,0.01],['06T',22,-0.02],['06T',42,0.01],['06T',61,0.02],
 ['08aq',-4,0.0],['08aq',10,0.02],['08aq',32,-0.01],['08aq',62,-0.02],['08aq',82.8,0.0],['07hn',15,-0.02],['07hn',39.8,0.02],['07hn',57.8,0.0],['09bb',-8,0.01],['09bb',5,-0.02],['09bb',30,0.04],
 ['06ep',12,-0.02],['06ep',46.6,0.01],['04gv',-12,0.0],['04gv',14,0.02],['04gq',25,0.01],['04gq',46,-0.01],['04fe',6,-0.03],['04fe',18,0.03]
];
var res_Y = [
 ['05em',-16.4,-0.11,0.04],['08gc',-4.7,0.17,0.08],['07kj',-10.5,0.09],['06ba',5.9,0.15,0.02],['04ex',12.2,0.16],['06ep',16.1,0.11],['07kj',20.3,-0.13,0.04],['07kj',24.2,-0.13,0.04],
 ['04ex',27,-0.13],['06ep',28.9,-0.22],['06ba',15.6,-0.11,0.04],['07C',35.5,0.09,0.04],['07kj',48.4,0.15,0.05],['07C',48.4,0.03,0.04],['06T',22.7,0.06],['06T',30,0.05],['06T',34,0.04],
 ['04ex',52,-0.01],['06T',58,0.0],['06T',63.3,-0.02],['08aq',64.8,-0.01],['07C',74.2,0.02],['08aq',81.6,0.01],['06T',83.8,-0.08],['07C',102.3,0.13,0.04],['07C',112,-0.11,0.04],
 ['09K',-22.7,0.0],['09K',-19.5,0.01],['07C',61.7,-0.03],['09bb',44.5,0.0],['07ag',37.5,0.01,0.04],
 ['04gv',-13,0.0],['04gv',-8,0.02],['06ep',-11,-0.01],['06ep',-5,0.02],['07Y',-15,0.02],['07Y',-8,-0.03],['09bb',-10,0.0],['09bb',-3,-0.01],['09bb',3,0.0],['09bb',8.6,0.01],
 ['04ex',-8.6,-0.05],['04ex',-3,-0.04],['07ag',0,0.0],['07ag',8,0.0],['07ag',19.5,-0.01],['06T',-4,-0.02],['06T',10,0.0],['08aq',0,0.01],['08aq',16,-0.02],
 ['07kj',0,-0.01],['07kj',5,0.0],['05em',10,0.02],['07C',-6,-0.03],['07C',10,0.0]
];
var res_J = [
 ['06ep',-14.8,0.17],['05em',-13.75,-0.21,0.08],['05em',-13.6,0.0,0.08],['05em',12.5,0.1],['05em',19.5,-0.13,0.1],['06ep',52.8,0.19],['06T',75,0.09,0.08],['07C',74.7,0.06],
 ['08aq',82,0.0],['08aq',82.8,-0.07],['07C',102.3,-0.14,0.05],['06ep',27.3,-0.1],['06ep',41.9,-0.06],['07kj',35.9,-0.1,0.04],['07C',48.4,-0.04,0.05],['06T',36.7,0.06],
 ['06T',52.3,0.02],['06T',58.3,-0.04],['04ex',64,-0.02],['09K',-29.7,-0.01],['09K',-22.7,0.0],['09K',-19,0.0],['06ba',7.8,-0.08],['06ba',9.5,-0.07],['05em',2.3,-0.06,0.05],
 ['09bb',46.6,0.0],['07Y',-17.5,0.01],
 ['07Y',-11.7,-0.01],['04gv',-13,0.0],['04gv',-5,0.02],['06ep',-10,-0.02],['06ep',-4,0.01],['09bb',-9,0.0],['09bb',-2,0.0],['09bb',5,-0.01],['09bb',10,0.0],
 ['07ag',-4,0.0],['07ag',3,0.0],['07ag',12,0.0],['07ag',23.1,0.01],['04ex',0,0.02],['04ex',10,-0.02],['04ex',24,0.03],['06T',0,-0.02],['06T',18,0.01],
 ['08aq',12,-0.03],['08aq',25,0.02],['07kj',1,0.03],['07kj',14,-0.02],['07C',10,-0.04,0.04],['07C',20,0.01]
];
var res_H = [
 ['04gv',-18.4,0.05,0.02],['06ep',-11,-0.08],['07kj',-9.8,0.15,0.05],['06T',-13.75,-0.13],['08gc',-1.6,0.09,0.1],['07Y',26.25,0.09],['07C',33.6,-0.15,0.1],['07C',46.4,0.06,0.07],
 ['09bb',47.2,0.0],['06T',60.6,0.11,0.06],['07C',60.6,0.03],['06T',56,0.02],['06T',72.7,-0.07,0.03],['06T',80.9,-0.13,0.03],['07C',99.7,-0.12,0.06],['07C',110.2,0.15,0.16],
 ['09K',-26.6,-0.04],['07Y',31.25,-0.06],['06ep',7,-0.07],['04ex',37.5,0.0],['08aq',39,0.01],['06T',40,0.0],['04ex',61,0.01],
 ['04gv',-14,-0.01],['04gv',-9,0.03],['07Y',-12,0.0],['07Y',-4,-0.02],['06ep',-5,0.02],['06ep',0,0.0],['09bb',-8.6,0.0],['09bb',0,0.0],['09bb',9.4,-0.01],['09bb',17.5,0.0],
 ['07kj',-4,-0.02],['07kj',8,0.02],['07kj',18,0.03],['05em',-13.3,0.02],['05em',0,0.01],['04ex',10,-0.01],['04ex',20,0.02],['06T',6,0.03],['06T',15,0.02],
 ['08aq',12,-0.02],['08aq',25,0.0],['07C',0,-0.03],['07C',10,0.0],['07C',20,0.03,0.04],['06ba',8,0.04]
];

// template-fit curve where it runs beyond / between observed points: [band, sn, days, m - m_peak]
var fitTails = [
 ['u','08aq',-17.7,1.87],['u','08aq',-13,1.25],
 ['u','04fe',25.5,3.46],
 ['B','04ex',-18,1.43],['B','04ex',-15.5,1.15],
 ['g','04ex',-19.5,3.39],['g','04ex',-18.5,2.6],['g','04ex',-17,1.95],['g','04ex',-15,1.4],
 ['V','08aq',-21.9,1.52],['V','08aq',-18,1.05],['V','08aq',-14,0.75],['V','08aq',-11,0.62],
 ['r','08aq',-23.1,1.43],['r','08aq',-19,0.98],['r','08aq',-15,0.68],['r','08aq',-11,0.5],
 ['Y','07C',131,3.6],
 ['Y','09bb',25,1.38],['Y','09bb',30,1.6],['Y','09bb',35,1.8],['Y','09bb',40,1.96],
 ['J','09bb',25,1.45],['J','09bb',30,1.75],['J','09bb',35,2.0],['J','09bb',40,2.2],
 ['H','09bb',25,1.22],['H','09bb',30,1.45],['H','09bb',35,1.62],['H','09bb',40,1.78]
];

var magData = [mag_u, mag_B, mag_g, mag_V, mag_r, mag_i, mag_Y, mag_J, mag_H];
var resData = [res_u, res_B, res_g, res_V, res_r, res_i, res_Y, res_J, res_H];

var FONT = 'DejaVu Serif';
var SYM = {
  sq: 'rect', circ: 'circle', diam: 'diamond', triU: 'triangle',
  triD: 'path://M0,0L10,0L5,9Z',
  triL: 'path://M9,0L9,10L0,5Z',
  triR: 'path://M0,0L9,5L0,10Z',
  star: 'path://M5,0L6.2,3.6L10,3.6L6.9,5.9L8.1,9.5L5,7.3L1.9,9.5L3.1,5.9L0,3.6L3.8,3.6Z',
  hex: 'path://M5,0L9.3,7.5L0.7,7.5ZM5,10L0.7,2.5L9.3,2.5Z',
  ast: 'path://M5,0L5,10M0,5L10,5M1.5,1.5L8.5,8.5M8.5,1.5L1.5,8.5',
  plus: 'path://M5,0L5,10M0,5L10,5',
  cross: 'path://M0,0L10,10M10,0L0,10'
};
function snColor(i) { return typeColors[typeNames.indexOf(snTypes[i])]; }

var cols = [64, 406, 748], colW = 342;
var rowTop = [4, 355, 707], rowH = [279, 280, 280], resH = 72;

var xMinor = [], magMinor = [], resMinor = [];
for (var v = -30; v <= 130; v += 5) xMinor.push(v);
for (var k = -2; k <= 27; k++) magMinor.push(+(k * 0.2).toFixed(2));
for (var k = -6; k <= 6; k++) resMinor.push(+(k * 0.05).toFixed(2));
// residual labels sit closer than their text height, so they go on two axes
var resLabA = resTicks.filter(function (v, i) { return i % 2 === 0; });
var resLabB = resTicks.filter(function (v, i) { return i % 2 === 1; });

function fmt(v) { return String(v).replace('-', '\u2212'); }

function axis(gi, pos, min, max, inv, ticks, len, line, lab, fs) {
  return {
    gridIndex: gi, type: 'value', position: pos, min: min, max: max, inverse: inv, silent: true,
    axisLine: { show: line, onZero: false, lineStyle: { color: '#000', width: 2.6 } },
    axisTick: { show: !!ticks, inside: true, length: len, customValues: ticks || undefined, lineStyle: { color: '#000', width: 1.8 } },
    axisLabel: { show: !!lab, customValues: lab || undefined, margin: 6, interval: 0, hideOverlap: false,
      color: '#000', fontFamily: FONT, fontWeight: 'bold', fontSize: fs || 19, formatter: fmt },
    splitLine: { show: false }, minorTick: { show: false }
  };
}

var grids = [], xAxes = [], yAxes = [], series = [], graphics = [];

function addX(gi, lab) {
  var i = xAxes.length;
  xAxes.push(axis(gi, 'bottom', -30, 130, false, xTicks, 9, true, lab ? xTicks : null, 19));
  xAxes.push(axis(gi, 'bottom', -30, 130, false, xMinor, 5, false, null));
  xAxes.push(axis(gi, 'top', -30, 130, false, xTicks, 9, true, null));
  xAxes.push(axis(gi, 'top', -30, 130, false, xMinor, 5, false, null));
  return i;
}
function addY(gi, isMag, lab) {
  var i = yAxes.length;
  var mn = isMag ? -0.47 : -0.31, mx = isMag ? 5.47 : 0.31;
  var maj = isMag ? magTicks : resTicks, mnr = isMag ? magMinor : resMinor;
  if (isMag) {
    yAxes.push(axis(gi, 'left', mn, mx, true, maj, 9, true, lab ? maj : null, 19));
  } else {
    yAxes.push(axis(gi, 'left', mn, mx, false, maj, 9, true, lab ? resLabA : null, 15));
    if (lab) yAxes.push(axis(gi, 'left', mn, mx, false, null, 0, false, resLabB, 15));
  }
  yAxes.push(axis(gi, 'left', mn, mx, isMag, mnr, 5, false, null));
  yAxes.push(axis(gi, 'right', mn, mx, isMag, maj, 9, true, null));
  yAxes.push(axis(gi, 'right', mn, mx, isMag, mnr, 5, false, null));
  return i;
}

function groupBySn(rows) {
  var g = {};
  rows.forEach(function (r) { (g[r[0]] = g[r[0]] || []).push(r); });
  return g;
}

function errSeries(xi, yi, rows) {
  var d = rows.filter(function (r) { return r.length > 3; })
              .map(function (r) { return [r[1], r[2], r[3], snNames.indexOf(r[0])]; });
  return {
    type: 'custom', xAxisIndex: xi, yAxisIndex: yi, silent: true, z: 1, clip: true,
    data: d, encode: { x: 0, y: 1 },
    renderItem: function (params, api) {
      var t = api.value(0), m = api.value(1), e = api.value(2);
      var c = snColor(api.value(3));
      var a = api.coord([t, m - e]), b = api.coord([t, m + e]);
      var x = a[0];
      var st = { stroke: c, lineWidth: 1 };
      return { type: 'group', children: [
        { type: 'line', shape: { x1: x, y1: a[1], x2: x, y2: b[1] }, style: st },
        { type: 'line', shape: { x1: x - 3, y1: a[1], x2: x + 3, y2: a[1] }, style: st },
        { type: 'line', shape: { x1: x - 3, y1: b[1], x2: x + 3, y2: b[1] }, style: st }
      ] };
    }
  };
}

function markStyle(si) {
  return { color: 'transparent', borderColor: snColor(si), borderWidth: 1 };
}

bands.forEach(function (band, k) {
  var r = Math.floor(k / 3), c = k % 3;
  var gm = grids.length;
  grids.push({ left: cols[c], top: rowTop[r], width: colW, height: rowH[r], containLabel: false, outerBoundsMode: 'none' });
  var gr = grids.length;
  grids.push({ left: cols[c], top: rowTop[r] + rowH[r], width: colW, height: resH, containLabel: false, outerBoundsMode: 'none' });
  var xm = addX(gm, false), ym = addY(gm, true, c === 0);
  var xr = addX(gr, r === 2), yr = addY(gr, false, c === 0);

  var mg = groupBySn(magData[k]);
  var rg = groupBySn(resData[k]);
  var tg = groupBySn(fitTails.filter(function (t) { return t[0] === band; }).map(function (t) { return t.slice(1); }));

  snNames.forEach(function (sn, si) {
    var col = snColor(si);
    if (mg[sn]) {
      var pts = mg[sn].map(function (p) { return { value: [p[1], p[2]] }; });
      (tg[sn] || []).forEach(function (p) { pts.push({ value: [p[1], p[2]], symbol: 'none' }); });
      pts.sort(function (a, b) { return a.value[0] - b.value[0]; });
      series.push({ type: 'line', name: sn, xAxisIndex: xm, yAxisIndex: ym, symbol: SYM[snShapes[si]], symbolSize: 8,
        showSymbol: true, smooth: 0.2, smoothMonotone: 'x', data: pts,
        lineStyle: { color: col, width: 0.9 }, itemStyle: markStyle(si), emphasis: { disabled: true }, silent: true, z: 3 });
    }
    if (rg[sn]) {
      series.push({ type: 'scatter', name: sn, xAxisIndex: xr, yAxisIndex: yr, symbol: SYM[snShapes[si]], symbolSize: 8,
        data: rg[sn].map(function (p) { return [p[1], p[2]]; }),
        itemStyle: markStyle(si), emphasis: { disabled: true }, silent: true, z: 3 });
    }
  });
  series.push(errSeries(xm, ym, magData[k]));
  series.push(errSeries(xr, yr, resData[k]));

  graphics.push({ type: 'text', x: cols[c] + colW - 7, y: rowTop[r] + 24, silent: true,
    style: { text: band, align: 'right', verticalAlign: 'middle', fill: '#000', fontFamily: FONT, fontWeight: 'bold', fontSize: 27 } });
});

// supernova type key inside the J panel
var typeX = [480, 513, 545, 577];
typeNames.forEach(function (t, i) {
  graphics.push({ type: 'text', x: typeX[i], y: 965, silent: true,
    style: { text: t.replace('-', '\u2212'), align: 'left', verticalAlign: 'middle', fill: typeColors[i], fontFamily: FONT, fontWeight: 'bold', fontSize: 17 } });
});

// axis titles
var titleStyle = { fill: '#000', fontFamily: FONT, fontWeight: 'bold' };
function txt(x, y, s, size, align, rot) {
  return { type: 'text', x: x, y: y, rotation: rot || 0, silent: true,
    style: Object.assign({ text: s, fontSize: size, align: align, verticalAlign: 'middle' }, titleStyle) };
}
graphics.push(txt(724, 1089, 'Rest\u2212frame days since m', 24, 'right'));
graphics.push(txt(726, 1104, 'peak', 18, 'left'));
graphics.push(txt(20, 585, 'm\u2212m', 26, 'left', Math.PI / 2));
graphics.push(txt(34, 530, 'peak', 18, 'left', Math.PI / 2));
graphics.push(txt(20, 470, '[mag]', 26, 'left', Math.PI / 2));
graphics.push(txt(9, 690, 'Residuals [mag]', 12, 'center', Math.PI / 2));

var chart = echarts.init(document.getElementById('main'), null, { renderer: 'canvas' });
chart.setOption({
  animation: false,
  backgroundColor: '#fff',
  grid: grids,
  xAxis: xAxes,
  yAxis: yAxes,
  series: series,
  graphic: graphics,
  legend: {
    orient: 'vertical', left: 1096, top: 209, padding: [2, 10, 2, 22],
    itemWidth: 8, itemHeight: 8, itemGap: 0, selectedMode: false,
    borderColor: '#000', borderWidth: 1,
    data: snNames.map(function (sn, si) {
      return { name: sn, icon: SYM[snShapes[si]], itemStyle: markStyle(si) };
    }),
    textStyle: { fontFamily: FONT, fontWeight: 'bold', fontSize: 15, color: '#000', lineHeight: 22.5, padding: [0, 0, 0, 10] }
  }
});
window.addEventListener('resize', chart.resize);
</script>
</body>
</html>
